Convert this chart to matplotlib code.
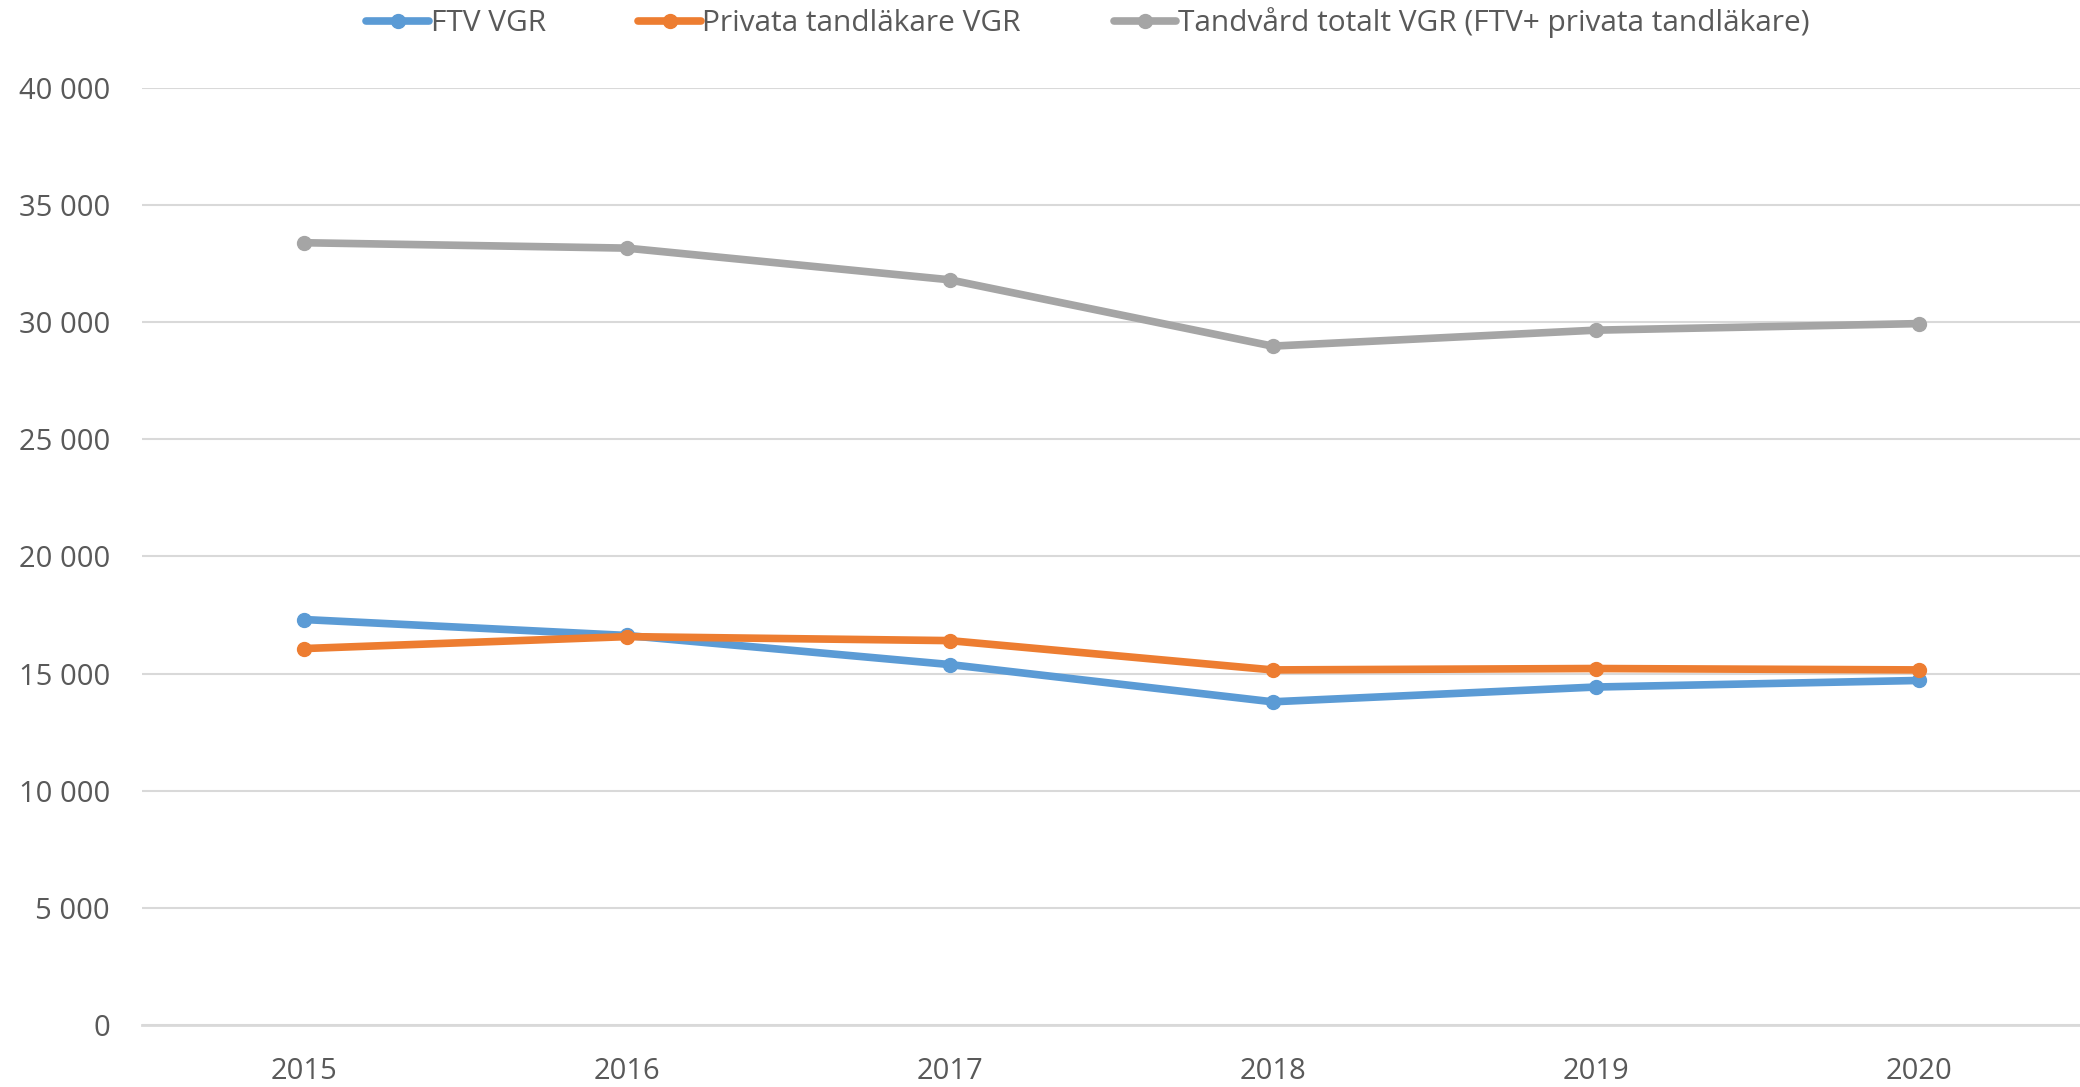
import numpy as np
import matplotlib.pyplot as plt
from matplotlib.ticker import FuncFormatter

years = ['2015', '2016', '2017', '2018', '2019', '2020']
ftv = [17310, 16630, 15390, 13800, 14430, 14710]
privata = [16070, 16580, 16410, 15160, 15220, 15160]
totalt = [33380, 33150, 31800, 28970, 29650, 29930]

labels = ['FTV VGR', 'Privata tandläkare VGR', 'Tandvård totalt VGR (FTV+ privata tandläkare)']
colors = ['#5B9BD5', '#ED7D31', '#A5A5A5']

plt.rcParams['font.family'] = ['Open Sans', 'DejaVu Sans']
txt = '#595959'

fig = plt.figure(figsize=(20.8, 10.87), dpi=100)
ax = fig.add_axes([0.0683, 0.0567, 0.9317, 0.8628])

x = np.arange(len(years))
for vals, lab, col in zip([ftv, privata, totalt], labels, colors):
    ax.plot(x, vals, color=col, lw=5.5, marker='o', ms=10, label=lab,
            solid_capstyle='round')

ax.set_xlim(-0.5, len(years) - 0.5)
ax.set_ylim(0, 40000)
ax.set_yticks(np.arange(0, 40001, 5000))
ax.yaxis.set_major_formatter(FuncFormatter(lambda v, p: f'{int(v):,}'.replace(',', ' ')))
ax.set_xticks(x)
ax.set_xticklabels(years)

ax.grid(axis='y', color='#D9D9D9', lw=1.5)
ax.set_axisbelow(True)
for s in ['top', 'right', 'left']:
    ax.spines[s].set_visible(False)
ax.spines['bottom'].set_color('#D9D9D9')
ax.spines['bottom'].set_linewidth(2)
ax.tick_params(axis='both', length=0, colors=txt)
ax.tick_params(axis='y', pad=23, labelsize=21)
ax.tick_params(axis='x', pad=23, labelsize=21)

leg = fig.legend(loc='upper center', bbox_to_anchor=(0.523, 1.018), ncol=3,
                 frameon=False, fontsize=21.5, handlelength=2.1, handletextpad=0.05,
                 columnspacing=3.1, labelcolor=txt)

fig.savefig('out.png', dpi=100)
